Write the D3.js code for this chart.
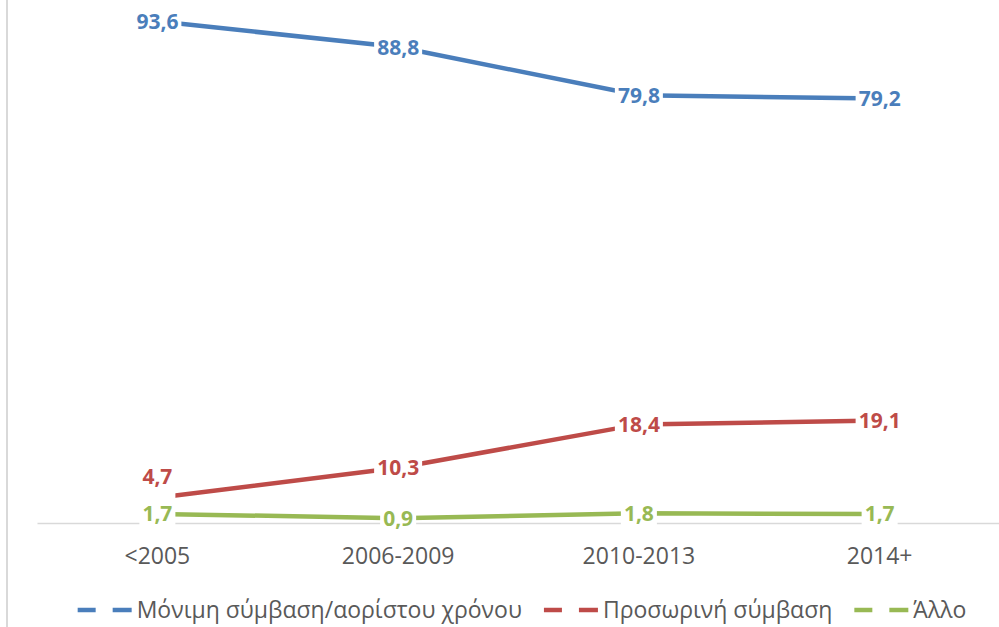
<!DOCTYPE html>
<html>
<head>
<meta charset="utf-8">
<script src="https://cdn.jsdelivr.net/npm/d3@7"></script>
<style>
  body { margin: 0; background: #fff; }
  svg { display: block; font-family: "Open Sans", "Noto Sans", sans-serif; }
</style>
</head>
<body>
<svg id="chartsvg" width="999" height="627"></svg>
<script>
var vis = d3.select("#chartsvg");
const width = 999, height = 627;

// data
let periods = ["<2005", "2006-2009", "2010-2013", "2014+"];
let permanent = [93.6, 88.8, 79.8, 79.2];
let temporary = [4.7, 10.3, 18.4, 19.1];
let other = [1.7, 0.9, 1.8, 1.7];
let seriesNames = ["Μόνιμη σύμβαση/αορίστου χρόνου", "Προσωρινή σύμβαση", "Άλλο"];
let seriesColors = ["#4a7ebb", "#be4b48", "#98b954"];

let series = [permanent, temporary, other].map((vals, i) => ({
    name: seriesNames[i],
    color: seriesColors[i],
    values: vals
}));

var x = d3.scaleBand().domain(periods).range([37, 1000]);
var y = d3.scaleLinear().domain([0, 100]).range([523, -13]);
var fmt = v => d3.format(".1f")(v).replace(".", ",");

// left border line
vis.append("line")
    .attr("x1", 7).attr("x2", 7).attr("y1", 0).attr("y2", height)
    .attr("stroke", "#d9d9d9").attr("stroke-width", 2);

// category axis
var xAxis = d3.axisBottom(x).tickSize(0).tickPadding(25);
var gx = vis.append("g").attr("transform", "translate(0," + y(0) + ")").call(xAxis);
gx.select(".domain").attr("stroke", "#d9d9d9").attr("stroke-width", 1.5);
gx.selectAll("text")
    .attr("font-size", 23)
    .attr("fill", "#595959")
    .attr("font-family", "Open Sans");

var line = d3.line()
    .x((d, i) => x(periods[i]) + x.bandwidth() / 2)
    .y(d => y(d));

vis.selectAll(".series").data(series)
    .enter()
    .append("path").attr("class", "series")
    .attr("d", d => line(d.values))
    .attr("fill", "none")
    .attr("stroke", d => d.color)
    .attr("stroke-width", 4.5);

// data labels with white boxes that cut the lines
series.forEach((s, si) => {
    s.values.forEach((v, i) => {
        let cx = x(periods[i]) + x.bandwidth() / 2;
        let cy = y(v);
        // push a label up when it would sit on the series below it
        let below = series[si + 1];
        let shift = (below && Math.abs(y(below.values[i]) - cy) < 26) ? -21 : 0;
        let g = vis.append("g").attr("transform", "translate(" + cx + "," + cy + ")");
        let t = g.append("text")
            .attr("text-anchor", "middle")
            .attr("dy", "0.36em")
            .attr("font-size", 21)
            .attr("font-weight", "bold")
            .attr("fill", s.color)
            .text(fmt(v));
        let bb = t.node().getBBox();
        g.insert("rect", "text")
            .attr("x", bb.x - 3).attr("y", bb.y + 2)
            .attr("width", bb.width + 6).attr("height", bb.height - 4)
            .attr("fill", "#fff");
        t.attr("y", shift);
    });
});

// legend
var legend = vis.append("g").attr("transform", "translate(0,610)");
var items = legend.selectAll(".item").data(series).enter()
    .append("g").attr("class", "item");
items.append("line")
    .attr("x1", 0).attr("x2", 18).attr("stroke", d => d.color).attr("stroke-width", 4.5);
items.append("line")
    .attr("x1", 35).attr("x2", 54).attr("stroke", d => d.color).attr("stroke-width", 4.5);
items.append("text")
    .attr("x", 59)
    .attr("dy", "0.35em")
    .attr("font-size", 23)
    .attr("fill", "#595959")
    .text(d => d.name);

var offs = [], cur = 0;
items.each(function () {
    offs.push(cur);
    cur += this.getBBox().width + 22;
});
var total = cur - 22, start = 522 - total / 2;
items.attr("transform", (d, i) => "translate(" + (start + offs[i]) + ",0)");
</script>
</body>
</html>
